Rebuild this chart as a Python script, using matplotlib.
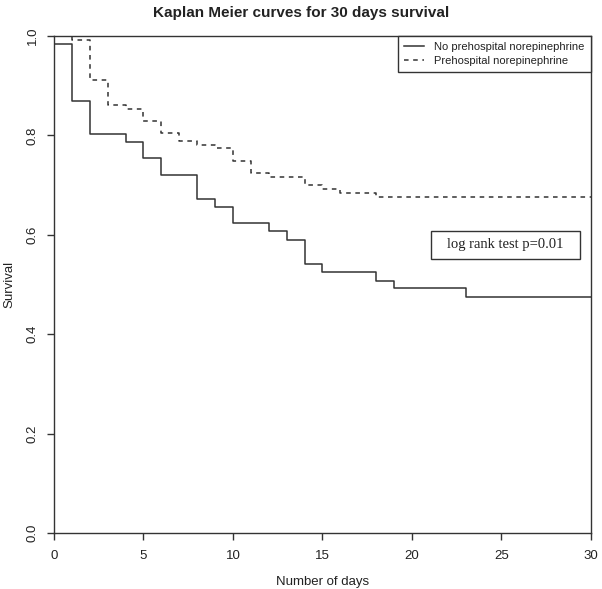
import matplotlib
matplotlib.use('Agg')
from matplotlib import pyplot as plt
from matplotlib.patches import Rectangle

# survival curves
days_no = [0, 0, 1, 2, 4, 5, 6, 8, 9, 10, 12, 13, 14, 15, 18, 19, 23, 30]
surv_no = [1.0, 0.984, 0.869, 0.803, 0.787, 0.754, 0.721, 0.672, 0.656, 0.623,
           0.607, 0.590, 0.541, 0.525, 0.508, 0.492, 0.475, 0.475]

days_ne = [0, 1, 2, 3, 4, 5, 6, 7, 8, 9, 10, 11, 12, 14, 15, 16, 18, 30]
surv_ne = [1.0, 0.992, 0.911, 0.862, 0.854, 0.829, 0.805, 0.789, 0.780, 0.774,
           0.749, 0.724, 0.716, 0.700, 0.692, 0.684, 0.676, 0.676]

labels = ['No prehospital norepinephrine', 'Prehospital norepinephrine']
x_ticks = [0, 5, 10, 15, 20, 25, 30]
y_ticks = [0.0, 0.2, 0.4, 0.6, 0.8, 1.0]

plt.rcParams['font.family'] = ['Liberation Sans', 'DejaVu Sans']
ink = '#333333'

fig = plt.figure(figsize=(6.02, 5.89), dpi=100)
ax = fig.add_axes([0.0897, 0.0951, 0.892, 0.8438])

ax.step(days_no, surv_no, where='post', color=ink, lw=1.1, label=labels[0])
ax.step(days_ne, surv_ne, where='post', color=ink, lw=1.1, dashes=(3, 3), label=labels[1])

ax.set_xlim(0, 30)
ax.set_ylim(0, 1)
ax.set_xticks(x_ticks)
ax.set_xticklabels([str(t) for t in x_ticks])
ax.set_yticks(y_ticks)
ax.set_yticklabels(['%.1f' % t for t in y_ticks], rotation=90, va='center')
for s in ax.spines.values():
    s.set_color(ink)
    s.set_linewidth(1.0)
ax.tick_params(axis='both', direction='out', length=5, width=1.0, color=ink,
               labelsize=9.5, labelcolor='#222222')
ax.tick_params(axis='x', pad=7)
ax.tick_params(axis='y', pad=6)

ax.set_xlabel('Number of days', fontsize=9.5, color='#222222', labelpad=10)
ax.set_ylabel('Survival', fontsize=9.5, color='#222222', labelpad=8)
fig.suptitle('Kaplan Meier curves for 30 days survival', fontsize=11, fontweight='bold',
             color='#222222', y=0.99)

leg = ax.legend(loc='upper right', bbox_to_anchor=(1, 1), borderaxespad=0,
                fancybox=False, framealpha=1, edgecolor=ink, fontsize=8,
                handlelength=1.8, handletextpad=0.9, borderpad=0.55, labelspacing=0.35)
leg.get_frame().set_linewidth(1.0)
for t in leg.get_texts():
    t.set_color('#222222')

# log rank box
ax.add_patch(Rectangle((0.7015, 0.551), 0.278, 0.0566, transform=ax.transAxes,
                       fill=False, edgecolor=ink, lw=1.0))
ax.text(0.8405, 0.5795, 'log rank test p=0.01', transform=ax.transAxes, ha='center',
        va='center', fontsize=10.5, family=['Liberation Serif', 'DejaVu Serif'], color='#222222')

fig.savefig('out.png', dpi=100)
